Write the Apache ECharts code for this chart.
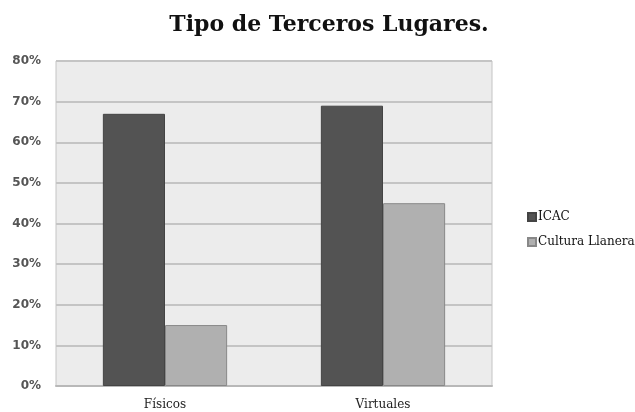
<!DOCTYPE html>
<html>
<head>
<meta charset="utf-8">
<title>Tipo de Terceros Lugares</title>
<script src="https://cdn.jsdelivr.net/npm/echarts@6/dist/echarts.min.js"></script>
<style type="text/css">
body{
    margin: 0;
    background: #ffffff;
}
#chart{
    width: 635px;
    height: 412px;
}
</style>
</head>
<body>
<div id="chart"></div>
<script>
// data
var categories = ['Físicos', 'Virtuales'];
var icacValues = [67, 69];
var llaneraValues = [15, 45];
var seriesNames = ['ICAC', 'Cultura Llanera'];

var chart = echarts.init(document.getElementById('chart'));

var option = {
    animation: false,
    title: {
        text: 'Tipo de Terceros Lugares.',
        left: 324,
        textAlign: 'center',
        top: 9,
        textStyle: {
            fontFamily: 'DejaVu Serif',
            fontWeight: 'bold',
            fontSize: 22,
            color: '#111'
        }
    },
    legend: {
        orient: 'vertical',
        left: 522,
        top: 206,
        itemWidth: 8,
        itemHeight: 8,
        itemGap: 13,
        icon: 'rect',
        textStyle: {
            fontFamily: 'DejaVu Serif',
            fontSize: 12,
            color: '#111',
            padding: [0, 0, 0, -3]
        },
        data: seriesNames
    },
    grid: {
        left: 56,
        right: 143,
        top: 61,
        bottom: 26,
        show: true,
        backgroundColor: '#ececec',
        borderColor: '#c4c4c4',
        borderWidth: 1
    },
    xAxis: {
        type: 'category',
        data: categories,
        axisTick: {show: false},
        axisLine: {lineStyle: {color: '#b8b8b8', width: 2}},
        axisLabel: {
            fontFamily: 'DejaVu Serif',
            fontSize: 12,
            color: '#222',
            margin: 13
        }
    },
    yAxis: {
        type: 'value',
        min: 0,
        max: 80,
        interval: 10,
        axisLine: {show: false},
        axisTick: {show: false},
        splitLine: {lineStyle: {color: '#c4c4c4', width: 2}},
        axisLabel: {
            formatter: '{value}%',
            fontFamily: 'DejaVu Sans',
            fontWeight: 'bold',
            fontSize: 12,
            color: '#555',
            margin: 15
        }
    },
    series: [
        {
            name: seriesNames[0],
            type: 'bar',
            data: icacValues,
            barGap: '0%',
            barCategoryGap: '43%',
            itemStyle: {color: '#535353', borderColor: '#444', borderWidth: 1}
        },
        {
            name: seriesNames[1],
            type: 'bar',
            data: llaneraValues,
            itemStyle: {color: '#b0b0b0', borderColor: '#888', borderWidth: 1}
        }
    ]
};
chart.setOption(option);
</script>
</body>
</html>
